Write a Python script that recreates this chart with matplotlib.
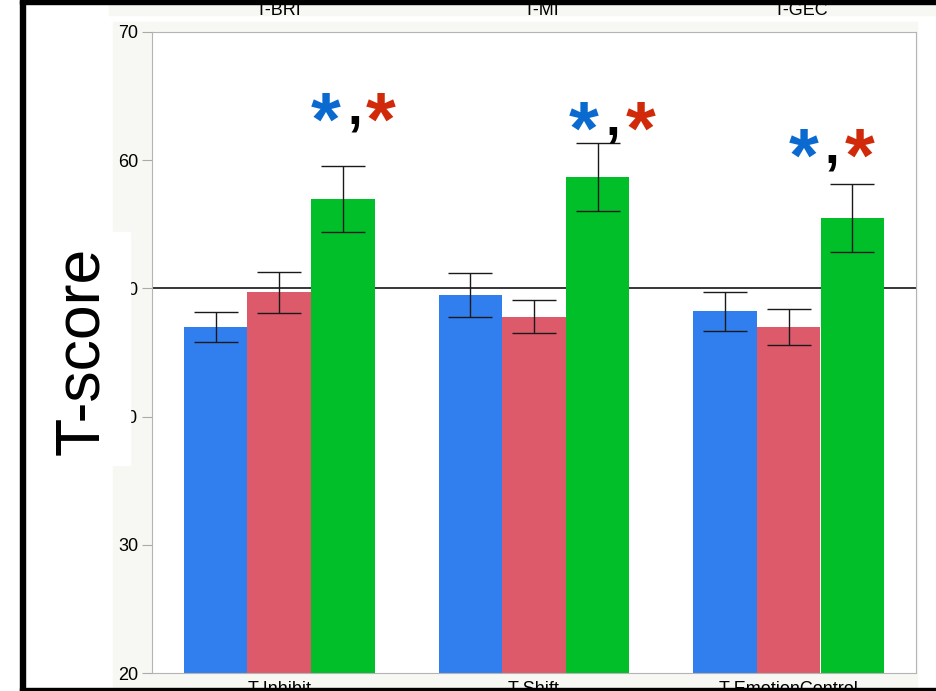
import matplotlib as mpl
import matplotlib.pyplot as plt
from matplotlib.patches import Rectangle
import numpy as np

mpl.rcParams.update({
    "font.family": ["Liberation Sans", "DejaVu Sans"],
    "font.size": 13,
})

# --- Data ---
categories = ["T-Inhibit", "T-Shift", "T-EmotionControl"]
top_labels = ["T-BRI", "T-MI", "T-GEC"]
blue_mean = [47.0, 49.5, 48.2]
blue_err = [1.17, 1.72, 1.51]
red_mean = [49.7, 47.8, 47.0]
red_err = [1.60, 1.28, 1.38]
green_mean = [57.0, 58.7, 55.5]
green_err = [2.57, 2.65, 2.66]
reference_t = 50

# significance marks (blue *, comma, red *) per group, data coords
star_blue_x = [0.183, 1.196, 2.060]
star_red_x = [0.399, 1.420, 2.280]
star_y = [61.2, 60.5, 58.4]
comma_x = [0.297, 1.310, 2.170]
comma_y = [62.9, 62.0, 59.8]

colors = ["#317FEF", "#DC5A6A", "#00BF29"]
W, H = 936, 691

fig = plt.figure(figsize=(W / 100, H / 100), dpi=100)


def fx(px):
    return px / W


def fy(py):
    return 1 - py / H


# light background panels of the screenshot
fig.patches.append(Rectangle((fx(113), fy(691)), fx(917 - 113), (691 - 22) / H,
                             transform=fig.transFigure, color="#F7F7F3", zorder=-10))
fig.patches.append(Rectangle((fx(109), fy(15)), fx(936 - 109), 11 / H,
                             transform=fig.transFigure, color="#F7F7F3", zorder=-10))
for lab, px in zip(top_labels, [279, 541, 801]):
    fig.text(fx(px), fy(15), lab, ha="center", va="baseline", fontsize=13, zorder=1)

ax = fig.add_axes([fx(152), fy(673), fx(916 - 152), (673 - 32) / H])
x = np.arange(len(categories))
width = 0.25
series = [(blue_mean, blue_err), (red_mean, red_err), (green_mean, green_err)]
for i, ((m, e), c) in enumerate(zip(series, colors)):
    ax.bar(x + (i - 1) * width, m, width, color=c, edgecolor="none", zorder=2,
           yerr=e, error_kw={"ecolor": "#1a1a1a", "elinewidth": 1.0,
                             "capsize": 16, "capthick": 1.0, "zorder": 3})

ax.axhline(reference_t, color="black", lw=1.1, zorder=1)

for bx, rx, sy, cx, cy in zip(star_blue_x, star_red_x, star_y, comma_x, comma_y):
    ax.text(bx, sy, "*", color="#0A6ACF", fontsize=55, fontweight="bold",
            ha="center", va="baseline", zorder=5)
    ax.text(rx, sy, "*", color="#D02A0A", fontsize=55, fontweight="bold",
            ha="center", va="baseline", zorder=5)
    ax.text(cx, cy, ",", color="black", fontsize=38, fontweight="bold",
            ha="center", va="baseline", zorder=5)

ax.set_xlim(-0.5, 2.5)
ax.set_ylim(20, 70)
ax.set_yticks(range(20, 71, 10))
ax.set_xticks(x)
ax.set_xticklabels(categories)
ax.tick_params(axis="y", length=7, width=0.8, color="#AAAAAA", pad=3, labelsize=13)
ax.tick_params(axis="x", length=0, pad=6, labelsize=13)
for s in ax.spines.values():
    s.set_color("#B4B4B4")
    s.set_linewidth(0.8)

# white label box covering part of the tick labels
fig.patches.append(Rectangle((fx(25), fy(465)), fx(130 - 25), (465 - 232) / H,
                             transform=fig.transFigure, color="white", zorder=10))
fig.text(fx(82), fy(351), "T-score", rotation=90, ha="center", va="center",
         fontsize=45, zorder=11)

# black screenshot frame
fig.patches.append(Rectangle((fx(20), fy(4)), fx(936 - 20), 4 / H,
                             transform=fig.transFigure, color="black", zorder=20))
fig.patches.append(Rectangle((fx(20), 0), fx(5), 1,
                             transform=fig.transFigure, color="black", zorder=20))
fig.patches.append(Rectangle((fx(20), 0), fx(936 - 20), 3 / H,
                             transform=fig.transFigure, color="black", zorder=20))

fig.savefig("out.png", dpi=100)
